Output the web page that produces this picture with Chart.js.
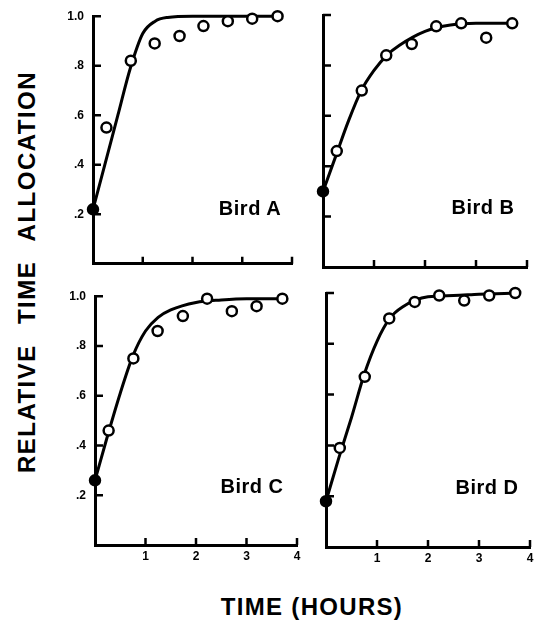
<!DOCTYPE html>
<html>
<head>
<meta charset="utf-8">
<script src="https://cdn.jsdelivr.net/npm/chart.js@4.4.0/dist/chart.umd.min.js"></script>
<style>
  html, body { margin: 0; padding: 0; background: #fff; }
  #page { position: relative; width: 540px; height: 622px; overflow: hidden;
          font-family: "Liberation Sans", Arial, sans-serif; font-weight: bold; color: #000; }
  canvas { position: absolute; }
  .lbl { position: absolute; transform: translate(-50%, -50%); white-space: nowrap; }
  .bird { font-size: 20px; letter-spacing: 0.5px; }
  .ytitle { font-size: 24px; letter-spacing: 1.5px; word-spacing: 12px;
            transform: translate(-50%, -50%) rotate(-90deg); }
  .xtitle { font-size: 24px; letter-spacing: 1.3px; }
</style>
</head>
<body>
<div id="page">
  <canvas id="panelA"></canvas>
  <canvas id="panelB"></canvas>
  <canvas id="panelC"></canvas>
  <canvas id="panelD"></canvas>
  <div class="lbl bird" style="left:250px; top:208px;">Bird A</div>
  <div class="lbl bird" style="left:483px; top:207px;">Bird B</div>
  <div class="lbl bird" style="left:252px; top:486px;">Bird C</div>
  <div class="lbl bird" style="left:487px; top:487px;">Bird D</div>
  <div class="lbl ytitle" style="left:27px; top:272px;">RELATIVE TIME ALLOCATION</div>
  <div class="lbl xtitle" style="left:312px; top:607px;">TIME (HOURS)</div>
</div>
<script>
// observed points (hours after start)
const hours = [0, 0.27, 0.76, 1.24, 1.74, 2.22, 2.71, 3.2, 3.71];
const birdA = [0.22, 0.55, 0.82, 0.89, 0.92, 0.96, 0.98, 0.99, 1.0];
const birdB = [0.30, 0.46, 0.70, 0.84, 0.885, 0.955, 0.967, 0.91, 0.967];
const birdC = [0.26, 0.46, 0.75, 0.86, 0.92, 0.99, 0.94, 0.96, 0.99];
const birdD = [0.18, 0.39, 0.67, 0.90, 0.965, 0.99, 0.97, 0.99, 1.0];

// fitted curves
const fitHours = [0, 0.25, 0.5, 0.75, 1, 1.25, 1.5, 2, 2.5, 3, 3.75];
const fitA = [0.22, 0.41, 0.60, 0.79, 0.93, 0.98, 0.995, 1.0, 1.0, 1.0, 1.0];
const fitB = [0.30, 0.44, 0.58, 0.70, 0.78, 0.84, 0.88, 0.935, 0.96, 0.967, 0.967];
const fitC = [0.26, 0.44, 0.61, 0.76, 0.86, 0.915, 0.945, 0.975, 0.985, 0.99, 0.99];
const fitD = [0.18, 0.35, 0.51, 0.68, 0.81, 0.90, 0.945, 0.985, 0.99, 0.995, 1.0];

const yTicks = [0.2, 0.4, 0.6, 0.8, 1.0];
const xTicks = [1, 2, 3, 4];

const tickFont = { family: "Liberation Sans", weight: "bold", size: 12 };

function toXY(xs, ys) {
  return xs.map((x, i) => ({ x, y: ys[i] }));
}

// small ticks pointing into the plot, like the original
const inwardTicks = {
  id: "inwardTicks",
  beforeDatasetsDraw(chart) {
    const { ctx, chartArea: a, scales } = chart;
    ctx.save();
    ctx.strokeStyle = "#000";
    ctx.lineWidth = 2.5;
    ctx.beginPath();
    yTicks.forEach(v => {
      const y = scales.y.getPixelForValue(v);
      ctx.moveTo(a.left, y);
      ctx.lineTo(a.left + 8, y);
    });
    xTicks.forEach(v => {
      const x = scales.x.getPixelForValue(v);
      ctx.moveTo(x, a.bottom);
      ctx.lineTo(x, a.bottom - 7);
    });
    ctx.stroke();
    ctx.restore();
  },
};

function drawPanel(id, box, area, points, fit, showX, showY) {
  const canvas = document.getElementById(id);
  canvas.width = box.w;
  canvas.height = box.h;
  canvas.style.left = box.x + "px";
  canvas.style.top = box.y + "px";

  new Chart(canvas, {
    type: "scatter",
    data: {
      datasets: [
        {
          data: toXY(hours, points),
          showLine: false,
          pointRadius: 5,
          pointBorderWidth: 2.5,
          pointBorderColor: "#000",
          pointBackgroundColor: points.map((_, i) => (i === 0 ? "#000" : "#fff")),
          clip: false,
        },
        {
          data: toXY(fitHours, fit),
          showLine: true,
          borderColor: "#000",
          borderWidth: 3,
          pointRadius: 0,
          cubicInterpolationMode: "monotone",
          clip: false,
        },
      ],
    },
    options: {
      responsive: false,
      animation: false,
      events: [],
      layout: {
        padding: { left: 0, top: area.t - box.y, right: box.x + box.w - area.r, bottom: 0 },
      },
      plugins: { legend: { display: false }, tooltip: { enabled: false } },
      scales: {
        x: {
          type: "linear",
          min: 0,
          max: 4,
          afterFit: s => { s.height = box.y + box.h - area.b; },
          grid: { drawOnChartArea: false, drawTicks: false },
          border: { display: true, width: 3, color: "#000" },
          ticks: {
            display: showX,
            stepSize: 1,
            padding: 4,
            color: "#000",
            font: tickFont,
            callback: v => (v === 0 ? "" : String(v)),
          },
        },
        y: {
          type: "linear",
          min: 0,
          max: 1,
          afterFit: s => { s.width = area.l - box.x; },
          grid: { drawOnChartArea: false, drawTicks: false },
          border: { display: true, width: 3, color: "#000" },
          ticks: {
            display: showY,
            stepSize: 0.2,
            padding: 9,
            color: "#000",
            font: tickFont,
            callback: v => (v === 0 ? "" : v >= 1 ? "1.0" : "." + Math.round(v * 10)),
          },
        },
      },
    },
    plugins: [inwardTicks],
  });
}

drawPanel("panelA", { x: 50, y: 0, w: 250, h: 280 }, { l: 93, t: 15, r: 292, b: 267 }, birdA, fitA, false, true);
drawPanel("panelB", { x: 300, y: 0, w: 240, h: 280 }, { l: 323, t: 15, r: 527, b: 267 }, birdB, fitB, false, false);
drawPanel("panelC", { x: 50, y: 280, w: 255, h: 290 }, { l: 95, t: 292, r: 297, b: 545 }, birdC, fitC, true, true);
drawPanel("panelD", { x: 305, y: 280, w: 235, h: 290 }, { l: 326, t: 293, r: 530, b: 547 }, birdD, fitD, true, false);
</script>
</body>
</html>
